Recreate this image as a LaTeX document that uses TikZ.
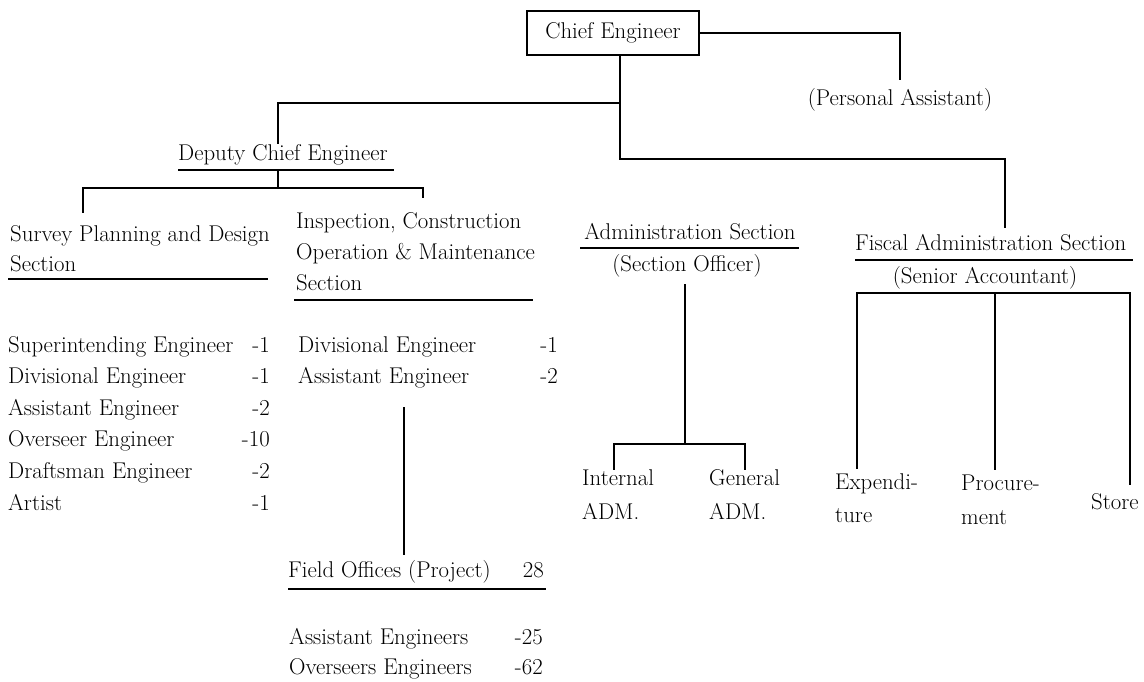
\documentclass[tikz,border=0pt]{standalone}
\usepackage{fontspec}
\begin{document}
\begin{tikzpicture}[x=1pt,y=-1pt,
  every node/.style={inner sep=0pt,font=\fontsize{22.8}{31}\selectfont},
  txt/.style={anchor=base west},
  num/.style={anchor=base east},
  ctr/.style={anchor=base},
  con/.style={line width=1.2pt,line cap=rect},
  uline/.style={line width=1.2pt},
  boxnode/.style={draw,line width=1.2pt,minimum width=172pt,minimum height=44pt}]
\useasboundingbox (0,0) rectangle (1144,682);

% top
\node[boxnode] (chief) at (613,33) {Chief Engineer};
\node[ctr] (pa) at (900,106) {(Personal Assistant)};

% deputy
\node[txt] (deputy) at (178,161) {Deputy Chief Engineer};
\draw[uline] (178,170) -- (394,170);

% survey section
\node[txt] (survey1) at (10,241) {Survey Planning and Design};
\node[txt] (survey2) at (10,271) {Section};
\draw[uline] (8,279) -- (268,279);

\node[txt] (s1) at (8,352) {Superintending Engineer};
\node[txt] (s2) at (8,383.6) {Divisional Engineer};
\node[txt] (s3) at (8,415.2) {Assistant Engineer};
\node[txt] (s4) at (8,446.8) {Overseer Engineer};
\node[txt] (s5) at (8,478.4) {Draftsman Engineer};
\node[txt] (s6) at (8,510) {Artist};
\node[num] (n1) at (270,352) {-1};
\node[num] (n2) at (270,383.6) {-1};
\node[num] (n3) at (270,415.2) {-2};
\node[num] (n4) at (270,446.8) {-10};
\node[num] (n5) at (270,478.4) {-2};
\node[num] (n6) at (270,510) {-1};

% inspection section
\node[txt] (insp1) at (296,228) {Inspection, Construction};
\node[txt] (insp2) at (296,259) {Operation \& Maintenance};
\node[txt] (insp3) at (296,290) {Section};
\draw[uline] (294,300) -- (533,300);

\node[txt] (i1) at (298,352) {Divisional Engineer};
\node[txt] (i2) at (298,383.6) {Assistant Engineer};
\node[num] (in1) at (558,352) {-1};
\node[num] (in2) at (558,383.6) {-2};

\node[txt] (field) at (288,577) {Field Offices (Project)};
\node[num] (fieldn) at (544,577) {28};
\draw[uline] (288,589) -- (546,589);
\node[txt] (f1) at (289,644) {Assistant Engineers};
\node[txt] (f2) at (289,674) {Overseers Engineers};
\node[num] (fn1) at (543,644) {-25};
\node[num] (fn2) at (543,674) {-62};

% administration section
\node[ctr] (admin) at (690,239) {Administration Section};
\draw[uline] (580,248) -- (799,248);
\node[ctr] (adminoff) at (687,271) {(Section Officer)};
\node[txt] (int1) at (582,485) {Internal};
\node[txt] (int2) at (582,519) {ADM.};
\node[txt] (gen1) at (709,485) {General};
\node[txt] (gen2) at (709,519) {ADM.};

% fiscal section
\node[txt] (fiscal) at (855,251) {Fiscal Administration Section};
\draw[uline] (855,260) -- (1133,260);
\node[ctr] (fiscaloff) at (985,283) {(Senior Accountant)};
\node[txt] (exp1) at (835,489) {Expendi-};
\node[txt] (exp2) at (835,522) {ture};
\node[txt] (proc1) at (961,490) {Procure-};
\node[txt] (proc2) at (961,524) {ment};
\node[txt] (store) at (1091,509) {Store};

% junction coordinates
\coordinate (trunk) at (620,55);
\coordinate (jdep) at (620,103);
\coordinate (jfis) at (620,159);
\coordinate (dtop) at (278,143);
\coordinate (dbot) at (278,170);
\coordinate (dbar) at (278,188);
\coordinate (stop) at (83,212);
\coordinate (itop) at (423,197);
\coordinate (ftop) at (1005,227);
\coordinate (fstart) at (404,408);
\coordinate (fend) at (404,554);
\coordinate (atop) at (685,285);
\coordinate (abar) at (685,444);
\coordinate (intop) at (614,469);
\coordinate (gentop) at (745,469);
\coordinate (fbarl) at (857,293);
\coordinate (fbarm) at (995,293);
\coordinate (fbarr) at (1130,293);
\coordinate (exptop) at (857,468);
\coordinate (proctop) at (995,469);
\coordinate (storetop) at (1130,484);

% connectors
\draw[con] (chief.east) -| ([yshift=9pt]pa.north);
\draw[con] (trunk) -- (jfis) -| (ftop);
\draw[con] (jdep) -| (dtop);
\draw[con] (dbot) -- (dbar);
\draw[con] (stop) |- (itop |- dbar) -- (itop);
\draw[con] (fstart) -- (fend);
\draw[con] (atop) -- (abar);
\draw[con] (intop) |- (abar) -| (gentop);
\draw[con] (exptop) -- (fbarl) -- (fbarr) -- (storetop);
\draw[con] (fbarm) -- (proctop);
\end{tikzpicture}
\end{document}
